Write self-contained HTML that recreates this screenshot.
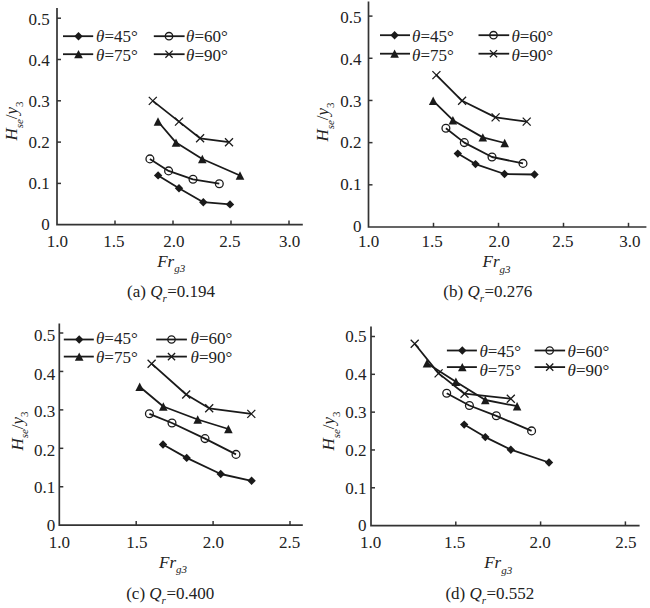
<!DOCTYPE html>
<html><head><meta charset="utf-8"><style>
html,body{margin:0;padding:0;background:#fff;width:650px;height:608px;overflow:hidden}
svg text{font-family:"Liberation Serif", serif;fill:#222}
</style></head><body>
<svg width="650" height="608" viewBox="0 0 650 608" style="position:absolute;left:0;top:0">
<rect width="650" height="608" fill="#fff"/>
<path d="M57 8V224.7H302.8" fill="none" stroke="#333" stroke-width="1.7"/>
<text x="49.70" y="229.95" text-anchor="end" font-size="17">0</text>
<path d="M57 183.40H61" stroke="#333" stroke-width="1.5"/>
<text x="49.70" y="189.10" text-anchor="end" font-size="17">0.1</text>
<path d="M57 142.10H61" stroke="#333" stroke-width="1.5"/>
<text x="49.70" y="148.00" text-anchor="end" font-size="17">0.2</text>
<path d="M57 100.80H61" stroke="#333" stroke-width="1.5"/>
<text x="49.70" y="106.80" text-anchor="end" font-size="17">0.3</text>
<path d="M57 59.50H61" stroke="#333" stroke-width="1.5"/>
<text x="49.70" y="66.30" text-anchor="end" font-size="17">0.4</text>
<path d="M57 18.20H61" stroke="#333" stroke-width="1.5"/>
<text x="49.70" y="25.05" text-anchor="end" font-size="17">0.5</text>
<text x="57.40" y="247.20" text-anchor="middle" font-size="17" class="xla">1.0</text>
<path d="M115.00 224.7V220.5" stroke="#333" stroke-width="1.5"/>
<text x="113.80" y="247.20" text-anchor="middle" font-size="17" class="xla">1.5</text>
<path d="M173.00 224.7V220.5" stroke="#333" stroke-width="1.5"/>
<text x="173.80" y="247.20" text-anchor="middle" font-size="17" class="xla">2.0</text>
<path d="M231.00 224.7V220.5" stroke="#333" stroke-width="1.5"/>
<text x="229.80" y="247.20" text-anchor="middle" font-size="17" class="xla">2.5</text>
<path d="M289.00 224.7V220.5" stroke="#333" stroke-width="1.5"/>
<text x="289.60" y="247.20" text-anchor="middle" font-size="17" class="xla">3.0</text>
<path d="M152.80 100.90L179.00 121.60L200.10 138.30L229.00 142.20" fill="none" stroke="#1a1a1a" stroke-width="1.8" stroke-linejoin="round"/>
<path d="M158.00 121.50L176.00 142.60L202.30 159.00L240.00 175.50" fill="none" stroke="#1a1a1a" stroke-width="1.8" stroke-linejoin="round"/>
<path d="M149.90 158.90L168.60 170.90L193.00 179.30L219.30 183.70" fill="none" stroke="#1a1a1a" stroke-width="1.8" stroke-linejoin="round"/>
<path d="M158.10 175.40L179.00 188.20L203.30 202.20L230.00 204.40" fill="none" stroke="#1a1a1a" stroke-width="1.8" stroke-linejoin="round"/>
<path d="M148.80 96.90L156.80 104.90M156.80 96.90L148.80 104.90" stroke="#1a1a1a" stroke-width="1.3" fill="none"/>
<path d="M175.00 117.60L183.00 125.60M183.00 117.60L175.00 125.60" stroke="#1a1a1a" stroke-width="1.3" fill="none"/>
<path d="M196.10 134.30L204.10 142.30M204.10 134.30L196.10 142.30" stroke="#1a1a1a" stroke-width="1.3" fill="none"/>
<path d="M225.00 138.20L233.00 146.20M233.00 138.20L225.00 146.20" stroke="#1a1a1a" stroke-width="1.3" fill="none"/>
<path d="M158.00 117.30L162.30 125.70L153.70 125.70Z" fill="#1a1a1a"/>
<path d="M176.00 138.40L180.30 146.80L171.70 146.80Z" fill="#1a1a1a"/>
<path d="M202.30 154.80L206.60 163.20L198.00 163.20Z" fill="#1a1a1a"/>
<path d="M240.00 171.30L244.30 179.70L235.70 179.70Z" fill="#1a1a1a"/>
<circle cx="149.90" cy="158.90" r="3.9" fill="none" stroke="#1a1a1a" stroke-width="1.3"/>
<circle cx="168.60" cy="170.90" r="3.9" fill="none" stroke="#1a1a1a" stroke-width="1.3"/>
<circle cx="193.00" cy="179.30" r="3.9" fill="none" stroke="#1a1a1a" stroke-width="1.3"/>
<circle cx="219.30" cy="183.70" r="3.9" fill="none" stroke="#1a1a1a" stroke-width="1.3"/>
<path d="M158.10 171.20L162.30 175.40L158.10 179.60L153.90 175.40Z" fill="#1a1a1a"/>
<path d="M179.00 184.00L183.20 188.20L179.00 192.40L174.80 188.20Z" fill="#1a1a1a"/>
<path d="M203.30 198.00L207.50 202.20L203.30 206.40L199.10 202.20Z" fill="#1a1a1a"/>
<path d="M230.00 200.20L234.20 204.40L230.00 208.60L225.80 204.40Z" fill="#1a1a1a"/>
<path d="M63 36.2H93.2" stroke="#1a1a1a" stroke-width="1.8"/>
<path d="M78.50 32.00L82.70 36.20L78.50 40.40L74.30 36.20Z" fill="#1a1a1a"/>
<text x="96.10" y="42.20" font-size="17"><tspan font-style="italic">θ</tspan>=45°</text>
<path d="M153.8 36.2H184.6" stroke="#1a1a1a" stroke-width="1.8"/>
<circle cx="169" cy="36.2" r="3.7" fill="none" stroke="#1a1a1a" stroke-width="1.3"/>
<text x="186.10" y="42.20" font-size="17"><tspan font-style="italic">θ</tspan>=60°</text>
<path d="M63 54.2H93.2" stroke="#1a1a1a" stroke-width="1.8"/>
<path d="M78.50 50.10L82.80 58.30L74.20 58.30Z" fill="#1a1a1a"/>
<text x="96.10" y="61.10" font-size="17"><tspan font-style="italic">θ</tspan>=75°</text>
<path d="M153.8 54.2H184.6" stroke="#1a1a1a" stroke-width="1.8"/>
<path d="M165.40 50.60L172.60 57.80M172.60 50.60L165.40 57.80" stroke="#1a1a1a" stroke-width="1.3" fill="none"/>
<text x="186.10" y="61.10" font-size="17"><tspan font-style="italic">θ</tspan>=90°</text>
<text transform="translate(17,121) rotate(-90)" text-anchor="middle" font-size="17"><tspan font-style="italic">H</tspan><tspan font-size="11" dy="5.5" font-style="italic">se</tspan><tspan dy="-5.5">/</tspan><tspan font-style="italic">y</tspan><tspan font-size="11" dy="5.5">3</tspan></text>
<text x="157.2" y="266.5" font-size="17" font-style="italic">Fr<tspan font-size="11" dy="5.8">g3</tspan></text>
<text x="127" y="297" font-size="17">(a) <tspan font-style="italic">Q</tspan><tspan font-size="11" dy="5" font-style="italic">r</tspan><tspan dy="-5" dx="0.5">=0.194</tspan></text>
<path d="M368.5 1.6V227H646.4" fill="none" stroke="#333" stroke-width="1.7"/>
<text x="361.50" y="231.85" text-anchor="end" font-size="17">0</text>
<path d="M368.5 184.82H372.5" stroke="#333" stroke-width="1.5"/>
<text x="361.50" y="190.10" text-anchor="end" font-size="17">0.1</text>
<path d="M368.5 142.64H372.5" stroke="#333" stroke-width="1.5"/>
<text x="361.50" y="148.30" text-anchor="end" font-size="17">0.2</text>
<path d="M368.5 100.46H372.5" stroke="#333" stroke-width="1.5"/>
<text x="361.50" y="106.80" text-anchor="end" font-size="17">0.3</text>
<path d="M368.5 58.28H372.5" stroke="#333" stroke-width="1.5"/>
<text x="361.50" y="64.60" text-anchor="end" font-size="17">0.4</text>
<path d="M368.5 16.10H372.5" stroke="#333" stroke-width="1.5"/>
<text x="361.50" y="22.65" text-anchor="end" font-size="17">0.5</text>
<text x="368.60" y="247.00" text-anchor="middle" font-size="17" class="xlb">1.0</text>
<path d="M433.50 227V222.8" stroke="#333" stroke-width="1.5"/>
<text x="432.10" y="247.00" text-anchor="middle" font-size="17" class="xlb">1.5</text>
<path d="M498.50 227V222.8" stroke="#333" stroke-width="1.5"/>
<text x="499.10" y="247.00" text-anchor="middle" font-size="17" class="xlb">2.0</text>
<path d="M563.50 227V222.8" stroke="#333" stroke-width="1.5"/>
<text x="562.80" y="247.00" text-anchor="middle" font-size="17" class="xlb">2.5</text>
<path d="M628.50 227V222.8" stroke="#333" stroke-width="1.5"/>
<text x="629.80" y="247.00" text-anchor="middle" font-size="17" class="xlb">3.0</text>
<path d="M436.40 75.10L462.10 100.80L495.60 117.40L526.70 121.60" fill="none" stroke="#1a1a1a" stroke-width="1.8" stroke-linejoin="round"/>
<path d="M433.20 100.80L452.90 120.20L482.80 137.40L504.70 143.00" fill="none" stroke="#1a1a1a" stroke-width="1.8" stroke-linejoin="round"/>
<path d="M445.90 128.30L464.30 142.60L492.00 157.00L523.00 163.40" fill="none" stroke="#1a1a1a" stroke-width="1.8" stroke-linejoin="round"/>
<path d="M457.80 153.60L475.50 164.10L504.50 174.00L534.50 174.50" fill="none" stroke="#1a1a1a" stroke-width="1.8" stroke-linejoin="round"/>
<path d="M432.40 71.10L440.40 79.10M440.40 71.10L432.40 79.10" stroke="#1a1a1a" stroke-width="1.3" fill="none"/>
<path d="M458.10 96.80L466.10 104.80M466.10 96.80L458.10 104.80" stroke="#1a1a1a" stroke-width="1.3" fill="none"/>
<path d="M491.60 113.40L499.60 121.40M499.60 113.40L491.60 121.40" stroke="#1a1a1a" stroke-width="1.3" fill="none"/>
<path d="M522.70 117.60L530.70 125.60M530.70 117.60L522.70 125.60" stroke="#1a1a1a" stroke-width="1.3" fill="none"/>
<path d="M433.20 96.60L437.50 105.00L428.90 105.00Z" fill="#1a1a1a"/>
<path d="M452.90 116.00L457.20 124.40L448.60 124.40Z" fill="#1a1a1a"/>
<path d="M482.80 133.20L487.10 141.60L478.50 141.60Z" fill="#1a1a1a"/>
<path d="M504.70 138.80L509.00 147.20L500.40 147.20Z" fill="#1a1a1a"/>
<circle cx="445.90" cy="128.30" r="3.9" fill="none" stroke="#1a1a1a" stroke-width="1.3"/>
<circle cx="464.30" cy="142.60" r="3.9" fill="none" stroke="#1a1a1a" stroke-width="1.3"/>
<circle cx="492.00" cy="157.00" r="3.9" fill="none" stroke="#1a1a1a" stroke-width="1.3"/>
<circle cx="523.00" cy="163.40" r="3.9" fill="none" stroke="#1a1a1a" stroke-width="1.3"/>
<path d="M457.80 149.40L462.00 153.60L457.80 157.80L453.60 153.60Z" fill="#1a1a1a"/>
<path d="M475.50 159.90L479.70 164.10L475.50 168.30L471.30 164.10Z" fill="#1a1a1a"/>
<path d="M504.50 169.80L508.70 174.00L504.50 178.20L500.30 174.00Z" fill="#1a1a1a"/>
<path d="M534.50 170.30L538.70 174.50L534.50 178.70L530.30 174.50Z" fill="#1a1a1a"/>
<path d="M380 35.2H410" stroke="#1a1a1a" stroke-width="1.8"/>
<path d="M394.60 31.00L398.80 35.20L394.60 39.40L390.40 35.20Z" fill="#1a1a1a"/>
<text x="412.10" y="42.20" font-size="17"><tspan font-style="italic">θ</tspan>=45°</text>
<path d="M478.5 35.2H509.2" stroke="#1a1a1a" stroke-width="1.8"/>
<circle cx="493.5" cy="35.2" r="3.7" fill="none" stroke="#1a1a1a" stroke-width="1.3"/>
<text x="511.40" y="42.20" font-size="17"><tspan font-style="italic">θ</tspan>=60°</text>
<path d="M380 53.7H410" stroke="#1a1a1a" stroke-width="1.8"/>
<path d="M394.60 49.60L398.90 57.80L390.30 57.80Z" fill="#1a1a1a"/>
<text x="412.10" y="61.10" font-size="17"><tspan font-style="italic">θ</tspan>=75°</text>
<path d="M478.5 53.7H509.2" stroke="#1a1a1a" stroke-width="1.8"/>
<path d="M489.90 50.10L497.10 57.30M497.10 50.10L489.90 57.30" stroke="#1a1a1a" stroke-width="1.3" fill="none"/>
<text x="511.40" y="61.10" font-size="17"><tspan font-style="italic">θ</tspan>=90°</text>
<text transform="translate(328,122) rotate(-90)" text-anchor="middle" font-size="17"><tspan font-style="italic">H</tspan><tspan font-size="11" dy="5.5" font-style="italic">se</tspan><tspan dy="-5.5">/</tspan><tspan font-style="italic">y</tspan><tspan font-size="11" dy="5.5">3</tspan></text>
<text x="482.5" y="266.9" font-size="17" font-style="italic">Fr<tspan font-size="11" dy="5.8">g3</tspan></text>
<text x="443.3" y="296.5" font-size="17">(b) <tspan font-style="italic">Q</tspan><tspan font-size="11" dy="5" font-style="italic">r</tspan><tspan dy="-5" dx="0.5">=0.276</tspan></text>
<path d="M59.3 323.5V525.2H302.8" fill="none" stroke="#333" stroke-width="1.7"/>
<text x="55.30" y="531.25" text-anchor="end" font-size="17">0</text>
<path d="M59.3 486.76H63.3" stroke="#333" stroke-width="1.5"/>
<text x="55.30" y="493.15" text-anchor="end" font-size="17">0.1</text>
<path d="M59.3 448.32H63.3" stroke="#333" stroke-width="1.5"/>
<text x="55.30" y="455.85" text-anchor="end" font-size="17">0.2</text>
<path d="M59.3 409.88H63.3" stroke="#333" stroke-width="1.5"/>
<text x="55.30" y="417.30" text-anchor="end" font-size="17">0.3</text>
<path d="M59.3 371.44H63.3" stroke="#333" stroke-width="1.5"/>
<text x="55.30" y="379.75" text-anchor="end" font-size="17">0.4</text>
<path d="M59.3 333.00H63.3" stroke="#333" stroke-width="1.5"/>
<text x="55.30" y="341.25" text-anchor="end" font-size="17">0.5</text>
<text x="59.40" y="547.80" text-anchor="middle" font-size="17" class="xlc">1.0</text>
<path d="M136.20 525.2V521.0" stroke="#333" stroke-width="1.5"/>
<text x="136.80" y="547.80" text-anchor="middle" font-size="17" class="xlc">1.5</text>
<path d="M213.10 525.2V521.0" stroke="#333" stroke-width="1.5"/>
<text x="213.30" y="547.80" text-anchor="middle" font-size="17" class="xlc">2.0</text>
<path d="M290.00 525.2V521.0" stroke="#333" stroke-width="1.5"/>
<text x="289.60" y="547.80" text-anchor="middle" font-size="17" class="xlc">2.5</text>
<path d="M151.60 363.70L186.20 394.50L209.20 408.30L251.30 413.90" fill="none" stroke="#1a1a1a" stroke-width="1.8" stroke-linejoin="round"/>
<path d="M139.70 386.80L163.30 406.50L197.70 419.50L228.40 429.00" fill="none" stroke="#1a1a1a" stroke-width="1.8" stroke-linejoin="round"/>
<path d="M149.40 413.80L172.00 423.00L205.00 438.60L236.00 454.40" fill="none" stroke="#1a1a1a" stroke-width="1.8" stroke-linejoin="round"/>
<path d="M163.00 444.50L186.70 457.90L220.70 474.00L251.60 480.80" fill="none" stroke="#1a1a1a" stroke-width="1.8" stroke-linejoin="round"/>
<path d="M147.60 359.70L155.60 367.70M155.60 359.70L147.60 367.70" stroke="#1a1a1a" stroke-width="1.3" fill="none"/>
<path d="M182.20 390.50L190.20 398.50M190.20 390.50L182.20 398.50" stroke="#1a1a1a" stroke-width="1.3" fill="none"/>
<path d="M205.20 404.30L213.20 412.30M213.20 404.30L205.20 412.30" stroke="#1a1a1a" stroke-width="1.3" fill="none"/>
<path d="M247.30 409.90L255.30 417.90M255.30 409.90L247.30 417.90" stroke="#1a1a1a" stroke-width="1.3" fill="none"/>
<path d="M139.70 382.60L144.00 391.00L135.40 391.00Z" fill="#1a1a1a"/>
<path d="M163.30 402.30L167.60 410.70L159.00 410.70Z" fill="#1a1a1a"/>
<path d="M197.70 415.30L202.00 423.70L193.40 423.70Z" fill="#1a1a1a"/>
<path d="M228.40 424.80L232.70 433.20L224.10 433.20Z" fill="#1a1a1a"/>
<circle cx="149.40" cy="413.80" r="3.9" fill="none" stroke="#1a1a1a" stroke-width="1.3"/>
<circle cx="172.00" cy="423.00" r="3.9" fill="none" stroke="#1a1a1a" stroke-width="1.3"/>
<circle cx="205.00" cy="438.60" r="3.9" fill="none" stroke="#1a1a1a" stroke-width="1.3"/>
<circle cx="236.00" cy="454.40" r="3.9" fill="none" stroke="#1a1a1a" stroke-width="1.3"/>
<path d="M163.00 440.30L167.20 444.50L163.00 448.70L158.80 444.50Z" fill="#1a1a1a"/>
<path d="M186.70 453.70L190.90 457.90L186.70 462.10L182.50 457.90Z" fill="#1a1a1a"/>
<path d="M220.70 469.80L224.90 474.00L220.70 478.20L216.50 474.00Z" fill="#1a1a1a"/>
<path d="M251.60 476.60L255.80 480.80L251.60 485.00L247.40 480.80Z" fill="#1a1a1a"/>
<path d="M63.8 339.5H93.8" stroke="#1a1a1a" stroke-width="1.8"/>
<path d="M79.20 335.30L83.40 339.50L79.20 343.70L75.00 339.50Z" fill="#1a1a1a"/>
<text x="96.00" y="344.20" font-size="17"><tspan font-style="italic">θ</tspan>=45°</text>
<path d="M156.2 339.5H186.9" stroke="#1a1a1a" stroke-width="1.8"/>
<circle cx="171.5" cy="339.5" r="3.7" fill="none" stroke="#1a1a1a" stroke-width="1.3"/>
<text x="190.60" y="344.20" font-size="17"><tspan font-style="italic">θ</tspan>=60°</text>
<path d="M63.8 356.6H93.8" stroke="#1a1a1a" stroke-width="1.8"/>
<path d="M79.20 352.50L83.50 360.70L74.90 360.70Z" fill="#1a1a1a"/>
<text x="96.00" y="363.10" font-size="17"><tspan font-style="italic">θ</tspan>=75°</text>
<path d="M156.2 356.6H186.9" stroke="#1a1a1a" stroke-width="1.8"/>
<path d="M167.90 353.00L175.10 360.20M175.10 353.00L167.90 360.20" stroke="#1a1a1a" stroke-width="1.3" fill="none"/>
<text x="190.60" y="363.10" font-size="17"><tspan font-style="italic">θ</tspan>=90°</text>
<text transform="translate(22.5,431) rotate(-90)" text-anchor="middle" font-size="17"><tspan font-style="italic">H</tspan><tspan font-size="11" dy="5.5" font-style="italic">se</tspan><tspan dy="-5.5">/</tspan><tspan font-style="italic">y</tspan><tspan font-size="11" dy="5.5">3</tspan></text>
<text x="159.1" y="567.6" font-size="17" font-style="italic">Fr<tspan font-size="11" dy="5.8">g3</tspan></text>
<text x="126.2" y="598.5" font-size="17">(c) <tspan font-style="italic">Q</tspan><tspan font-size="11" dy="5" font-style="italic">r</tspan><tspan dy="-5" dx="0.5">=0.400</tspan></text>
<path d="M371 326.6V525.6H639.6" fill="none" stroke="#333" stroke-width="1.7"/>
<text x="366.60" y="531.05" text-anchor="end" font-size="17">0</text>
<path d="M371 487.78H375" stroke="#333" stroke-width="1.5"/>
<text x="366.60" y="493.50" text-anchor="end" font-size="17">0.1</text>
<path d="M371 449.96H375" stroke="#333" stroke-width="1.5"/>
<text x="366.60" y="456.30" text-anchor="end" font-size="17">0.2</text>
<path d="M371 412.14H375" stroke="#333" stroke-width="1.5"/>
<text x="366.60" y="417.90" text-anchor="end" font-size="17">0.3</text>
<path d="M371 374.32H375" stroke="#333" stroke-width="1.5"/>
<text x="366.60" y="380.10" text-anchor="end" font-size="17">0.4</text>
<path d="M371 336.50H375" stroke="#333" stroke-width="1.5"/>
<text x="366.60" y="341.55" text-anchor="end" font-size="17">0.5</text>
<text x="370.70" y="547.80" text-anchor="middle" font-size="17" class="xld">1.0</text>
<path d="M455.80 525.6V521.4" stroke="#333" stroke-width="1.5"/>
<text x="454.50" y="547.80" text-anchor="middle" font-size="17" class="xld">1.5</text>
<path d="M540.60 525.6V521.4" stroke="#333" stroke-width="1.5"/>
<text x="540.10" y="547.80" text-anchor="middle" font-size="17" class="xld">2.0</text>
<path d="M625.40 525.6V521.4" stroke="#333" stroke-width="1.5"/>
<text x="625.90" y="547.80" text-anchor="middle" font-size="17" class="xld">2.5</text>
<path d="M414.70 343.80L438.60 373.40L464.50 393.70L510.80 398.70" fill="none" stroke="#1a1a1a" stroke-width="1.8" stroke-linejoin="round"/>
<path d="M427.00 363.20L455.90 381.70L485.30 400.00L517.10 406.20" fill="none" stroke="#1a1a1a" stroke-width="1.8" stroke-linejoin="round"/>
<path d="M446.70 393.20L469.40 405.50L496.30 415.80L531.60 430.90" fill="none" stroke="#1a1a1a" stroke-width="1.8" stroke-linejoin="round"/>
<path d="M464.20 424.60L485.30 437.10L510.80 449.70L549.00 462.50" fill="none" stroke="#1a1a1a" stroke-width="1.8" stroke-linejoin="round"/>
<path d="M410.70 339.80L418.70 347.80M418.70 339.80L410.70 347.80" stroke="#1a1a1a" stroke-width="1.3" fill="none"/>
<path d="M434.60 369.40L442.60 377.40M442.60 369.40L434.60 377.40" stroke="#1a1a1a" stroke-width="1.3" fill="none"/>
<path d="M460.50 389.70L468.50 397.70M468.50 389.70L460.50 397.70" stroke="#1a1a1a" stroke-width="1.3" fill="none"/>
<path d="M506.80 394.70L514.80 402.70M514.80 394.70L506.80 402.70" stroke="#1a1a1a" stroke-width="1.3" fill="none"/>
<path d="M427.00 359.00L431.30 367.40L422.70 367.40Z" fill="#1a1a1a"/>
<path d="M455.90 377.50L460.20 385.90L451.60 385.90Z" fill="#1a1a1a"/>
<path d="M485.30 395.80L489.60 404.20L481.00 404.20Z" fill="#1a1a1a"/>
<path d="M517.10 402.00L521.40 410.40L512.80 410.40Z" fill="#1a1a1a"/>
<circle cx="446.70" cy="393.20" r="3.9" fill="none" stroke="#1a1a1a" stroke-width="1.3"/>
<circle cx="469.40" cy="405.50" r="3.9" fill="none" stroke="#1a1a1a" stroke-width="1.3"/>
<circle cx="496.30" cy="415.80" r="3.9" fill="none" stroke="#1a1a1a" stroke-width="1.3"/>
<circle cx="531.60" cy="430.90" r="3.9" fill="none" stroke="#1a1a1a" stroke-width="1.3"/>
<path d="M464.20 420.40L468.40 424.60L464.20 428.80L460.00 424.60Z" fill="#1a1a1a"/>
<path d="M485.30 432.90L489.50 437.10L485.30 441.30L481.10 437.10Z" fill="#1a1a1a"/>
<path d="M510.80 445.50L515.00 449.70L510.80 453.90L506.60 449.70Z" fill="#1a1a1a"/>
<path d="M549.00 458.30L553.20 462.50L549.00 466.70L544.80 462.50Z" fill="#1a1a1a"/>
<path d="M446.9 350.5H476.9" stroke="#1a1a1a" stroke-width="1.8"/>
<path d="M462.30 346.30L466.50 350.50L462.30 354.70L458.10 350.50Z" fill="#1a1a1a"/>
<text x="479.40" y="356.50" font-size="17"><tspan font-style="italic">θ</tspan>=45°</text>
<path d="M534.6 350.5H565.1" stroke="#1a1a1a" stroke-width="1.8"/>
<circle cx="549.7" cy="350.5" r="3.7" fill="none" stroke="#1a1a1a" stroke-width="1.3"/>
<text x="567.60" y="356.50" font-size="17"><tspan font-style="italic">θ</tspan>=60°</text>
<path d="M446.9 367.1H476.9" stroke="#1a1a1a" stroke-width="1.8"/>
<path d="M462.30 363.00L466.60 371.20L458.00 371.20Z" fill="#1a1a1a"/>
<text x="479.40" y="375.50" font-size="17"><tspan font-style="italic">θ</tspan>=75°</text>
<path d="M534.6 367.1H565.1" stroke="#1a1a1a" stroke-width="1.8"/>
<path d="M546.10 363.50L553.30 370.70M553.30 363.50L546.10 370.70" stroke="#1a1a1a" stroke-width="1.3" fill="none"/>
<text x="567.60" y="375.50" font-size="17"><tspan font-style="italic">θ</tspan>=90°</text>
<text transform="translate(334,431) rotate(-90)" text-anchor="middle" font-size="17"><tspan font-style="italic">H</tspan><tspan font-size="11" dy="5.5" font-style="italic">se</tspan><tspan dy="-5.5">/</tspan><tspan font-style="italic">y</tspan><tspan font-size="11" dy="5.5">3</tspan></text>
<text x="484.2" y="568" font-size="17" font-style="italic">Fr<tspan font-size="11" dy="5.8">g3</tspan></text>
<text x="445.4" y="598.5" font-size="17">(d) <tspan font-style="italic">Q</tspan><tspan font-size="11" dy="5" font-style="italic">r</tspan><tspan dy="-5" dx="0.5">=0.552</tspan></text>
</svg>
</body></html>
